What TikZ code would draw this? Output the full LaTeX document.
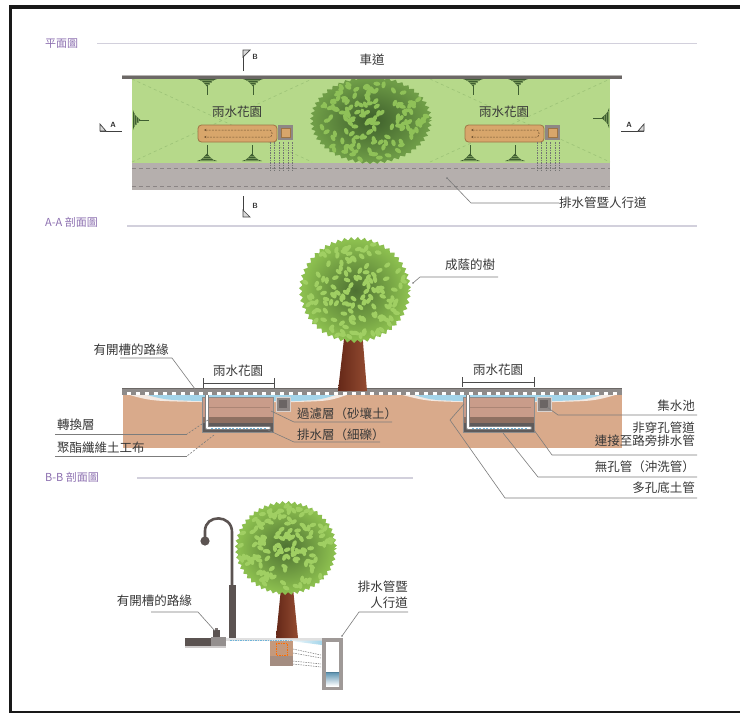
\documentclass[tikz,border=0pt]{standalone}
\usepackage{fontspec}
\newfontfamily\cjkfont{Noto Sans CJK TC}
\usetikzlibrary{calc,arrows.meta}

\definecolor{hdrpurple}{HTML}{8C6FB0}
\definecolor{hdrline}{HTML}{D2D0DC}
\definecolor{labeltext}{HTML}{383838}
\definecolor{leadergrey}{HTML}{7C7C7C}
\definecolor{lawn}{HTML}{B6D98A}
\definecolor{lawndiag}{HTML}{9CC277}
\definecolor{walk}{HTML}{B5AFAD}
\definecolor{walkdash}{HTML}{8A8484}
\definecolor{curbdark}{HTML}{6C6866}
\definecolor{curbgrey}{HTML}{8E8B8A}
\definecolor{shrubgreen}{HTML}{3E5E30}
\definecolor{trunkdark}{HTML}{652818}
\definecolor{trunklight}{HTML}{934B31}
\definecolor{soil}{HTML}{D9AA8B}
\definecolor{soilpale}{HTML}{F3E9E2}
\definecolor{water}{HTML}{A4D5EA}
\definecolor{pipeblue}{HTML}{6FB4DA}
\definecolor{filterlayer}{HTML}{C99C8A}
\definecolor{transitionlayer}{HTML}{8E7062}
\definecolor{drainlayer}{HTML}{5F5B5B}
\definecolor{gardentan}{HTML}{D8A66B}
\definecolor{gardenedge}{HTML}{9E7444}
\definecolor{basingrey}{HTML}{8E8785}
\definecolor{basinedge}{HTML}{D9D2CF}
\definecolor{lampgrey}{HTML}{5B5351}
% foliage
\definecolor{crownrim}{HTML}{8CBF4F}
\definecolor{crowncore}{HTML}{4D7032}
\definecolor{crownleaf}{HTML}{A0CF63}
\definecolor{planrim}{HTML}{6F9D47}
\definecolor{plancore}{HTML}{3D5E2B}
\definecolor{planleaf}{HTML}{8FC158}

\newcommand\lblfont{\cjkfont\fontsize{12.5}{14}\selectfont}
\newcommand\hdrfont{\cjkfont\fontsize{11}{13}\selectfont}
\newcommand\markfont{\sffamily\bfseries\fontsize{7.5}{8}\selectfont}

% leafy tree crown: centre x, centre y, x radius, y radius, seed, rim, core, leaf colours
\newcommand\leafycrown[8]{%
  \begin{scope}[shift={(#1,#2)}]
    \fill[#6] (#3,0) \foreach \ca in {0,7,...,357} {
        -- ({#3*cos(\ca)},{#4*sin(\ca)})
        -- ({0.94*#3*cos(\ca+3.5)},{0.94*#4*sin(\ca+3.5)}) } -- cycle;
    \shade[inner color=#7, outer color=#6]
      (0,0) ellipse [x radius={0.94*#3}, y radius={0.94*#4}];
    \pgfmathsetseed{#5}
    \foreach \ci in {1,...,140} {
      \pgfmathsetmacro\cang{360*rnd}
      \pgfmathsetmacro\crad{0.92*sqrt(rnd)}
      \pgfmathsetmacro\crot{360*rnd}
      \fill[#8, rotate around={\crot:({#3*\crad*cos(\cang)},{#4*\crad*sin(\cang)})}]
        ({#3*\crad*cos(\cang)},{#4*\crad*sin(\cang)}) ellipse [x radius=3.5, y radius=2.1];
    }
  \end{scope}}

\tikzset{
  lbl/.style={font=\lblfont, text=labeltext, inner sep=0pt},
  hdr/.style={font=\hdrfont, text=hdrpurple, inner sep=0pt, anchor=west},
  hdrrule/.style={draw=hdrline, line width=1.3},
  leader/.style={draw=leadergrey, line width=0.6},
  leaderdash/.style={leader, dash pattern=on 2pt off 1.5pt},
  marktext/.style={font=\markfont, text=black!80, inner sep=0pt},
  markline/.style={draw=black!75, line width=0.7},
  walkdashes/.style={draw=walkdash, line width=0.8, dash pattern=on 4pt off 3pt},
  seepage/.style={draw=black!55, line width=0.5, dash pattern=on 1.5pt off 1pt},
  spanbar/.style={draw=black!70, line width=0.9},
  gardenpipe/.style={draw=gardenedge!70!black, line width=0.5, dash pattern=on 2pt off 1.2pt,
    {Stealth[length=2.5pt,width=2.4pt]}-{Stealth[length=2.5pt,width=2.4pt]}},
  shrub/.pic={
    \fill[shrubgreen] (-10,0) .. controls (-4,-0.8) and (-2,-6) .. (0,-7.5)
                      .. controls (2,-6) and (4,-0.8) .. (10,0) -- cycle;
    \draw[lawn!45!shrubgreen, line width=0.35] (-7,-1.2) -- (7,-1.2) (-4.5,-3) -- (4.5,-3) (-2.5,-4.8) -- (2.5,-4.8);
    \draw[shrubgreen, line width=0.9] (0,-6) -- (0,-16);
  },
  plangarden/.pic={
    \fill[gardentan, draw=gardenedge, line width=0.8, rounded corners=3.5] (0,1) rectangle (79,18);
    \draw[gardenpipe] (6,6) -- (72,6) to[out=0,in=0] (72,13) -- (6,13);
    \fill[basingrey] (80,1) rectangle (95,16);
    \fill[gardentan, draw=gardenedge, line width=0.5] (83,4) rectangle (92,13);
    \foreach \sx in {72,76.5,81,85.5,90,94}
      \draw[seepage] (\sx,18) -- (\sx,46);
  },
  sectiongarden/.pic={
    \fill[filterlayer] (0,0) rectangle (71,20);
    \draw[filterlayer!85!black, line width=0.3] (3,10) -- (68,10);
    \fill[transitionlayer] (0,20) rectangle (71,26);
    \fill[drainlayer] (0,26) rectangle (71,35);
    \draw[black!45, line width=0.6] (0,0) rectangle (71,35);
    \draw[black!50, line width=4.2, line cap=round, line join=round] (5,-3) -- (5,31) -- (67,31);
    \draw[white, line width=2.8, line cap=round, line join=round] (5,-3) -- (5,31) -- (67,31);
    \draw[pipeblue, line width=0.9, dash pattern=on 2pt off 1.5pt] (9,31) -- (65,31);
    \fill[basingrey, draw=basinedge, line width=0.8] (74,0) rectangle (88,14);
    \fill[basingrey!75!black] (77,3) rectangle (85,11);
  },
}

\begin{document}
\begin{tikzpicture}[x=1pt,y=-1pt]
\useasboundingbox (0,0) rectangle (740,713);
\fill[white] (0,0) rectangle (740,713);

% ---------- frame ----------
\draw[line width=3.5, black!90] (10.5,5.5) -- (10.5,713);
\draw[line width=3.5, black!90] (9,7) -- (740,7);
\draw[line width=2.4, black!90] (9,711.8) -- (740,711.8);

% ---------- section headings ----------
\node[hdr] (hdrPlan) at (45,44) {平面圖};
\draw[hdrrule] (97,43.5) -- (697,43.5);
\node[hdr] (hdrAA) at (45,222) {A-A 剖面圖};
\draw[hdrrule] (127,226) -- (697,226);
\node[hdr] (hdrBB) at (45,477) {B-B 剖面圖};
\draw[hdrrule] (137,478) -- (413,478);

% =================== plan ===================
\fill[lawn] (132,78) rectangle (610,163);
\fill[walk] (132,163) rectangle (610,190);
\draw[walkdashes] (132,168) -- (610,168);
\draw[walkdashes] (132,186) -- (610,186);
\draw[lawndiag, line width=0.6, dash pattern=on 3pt off 3pt]
  (132,79) -- (312,162) (132,162) -- (312,79)
  (430,79) -- (610,162) (430,162) -- (610,79);

% shrubs along the edges
\pic[rotate=180] at (207,79) {shrub};
\pic[rotate=180] at (253,79) {shrub};
\pic[rotate=180] at (473,79) {shrub};
\pic[rotate=180] at (518,79) {shrub};
\pic at (207,161) {shrub};
\pic at (252,161) {shrub};
\pic at (470,161) {shrub};
\pic at (515,161) {shrub};
\pic[rotate=-90] at (133,120) {shrub};
\pic[rotate=90] at (609,118) {shrub};

% tree seen from above
\leafycrown{371}{120}{61}{44}{11}{planrim}{plancore}{planleaf}

% road edge
\fill[curbdark] (122,74.5) rectangle (622,78.5);
\draw[curbdark!50!white, line width=0.6] (122,75.6) -- (622,75.6);

% rain gardens in plan
\pic at (198,124) {plangarden};
\pic at (465,124) {plangarden};
\node[lbl] (rgPlanL) at (237,112) {雨水花園};
\node[lbl] (rgPlanR) at (504,112) {雨水花園};
\node[lbl] (road) at (372,60) {車道};

% section marks
\draw[markline] (243,71) -- (243,50);
\draw[markline, fill=black!15] (243,50) -- (250,50) -- (243,57) -- cycle;
\node[marktext] (markBtop) at (255,57) {B};
\draw[markline] (243,196) -- (243,217);
\draw[markline, fill=black!15] (243,217) -- (250,217) -- (243,210) -- cycle;
\node[marktext] (markBbot) at (255,206) {B};
\draw[markline] (100,131) -- (122,131);
\draw[markline, fill=black!15] (100,131) -- (100,124) -- (106,131) -- cycle;
\node[marktext] (markAleft) at (113,125) {A};
\draw[markline] (621,131) -- (644,131);
\draw[markline, fill=black!15] (644,131) -- (644,124) -- (638,131) -- cycle;
\node[marktext] (markAright) at (629,125) {A};

% sidewalk callout
\node[lbl, anchor=west] (lblWalkPlan) at (559,203) {排水管暨人行道};
\coordinate (walkPt) at (447,178);
\coordinate (walkBend) at (471,203);
\fill[leadergrey] (walkPt) circle (1);
\draw[leader] (walkPt) -- (walkBend) -- (lblWalkPlan.west);

% =================== section A-A ===================
\fill[soil] (123,393) rectangle (622,448);
\fill[soilpale] (123,393) .. controls (150,401) .. (200,402) -- (295,402) .. controls (330,401) .. (352,393) -- cycle;
\fill[water] (140,393) .. controls (165,400) .. (200,401) -- (295,401) .. controls (320,400) .. (342,393) -- cycle;
\fill[soilpale] (395,393) .. controls (425,401) .. (460,402) -- (555,402) .. controls (595,401) .. (622,393) -- cycle;
\fill[water] (408,393) .. controls (430,400) .. (460,401) -- (555,401) .. controls (585,400) .. (608,393) -- cycle;

\pic at (202,397) {sectiongarden};
\pic at (463,397) {sectiongarden};

% slotted kerb strip
\fill[curbgrey] (122,388) rectangle (622,394.5);
\fill[curbdark] (122,388) rectangle (622,389.3);
\foreach \kx in {127,136,...,620}
  \fill[white] (\kx,391.5) rectangle (\kx+3.5,394.5);

% shade tree
\shade[left color=trunkdark, right color=trunklight]
  (345,330) -- (362,330) -- (367,391) -- (338,391) -- cycle;
\leafycrown{355}{290}{56}{53}{7}{crownrim}{crowncore}{crownleaf}

% extent of each rain garden
\draw[spanbar] (203,378) -- (203,388) (203,383) -- (274,383) (274,378) -- (274,388);
\draw[spanbar] (462,377) -- (462,387) (462,382) -- (534,382) (534,377) -- (534,387);
\node[lbl] (rgAAL) at (238,371) {雨水花園};
\node[lbl] (rgAAR) at (498,370) {雨水花園};

% tree callout
\node[lbl] (lblTree) at (470,265) {成蔭的樹};
\coordinate (treePt) at (413,283);
\coordinate (treeBend) at (420,277);
\coordinate (treeEnd) at (498,277);
\fill[leadergrey] (treePt) circle (0.9);
\draw[leader] (treePt) -- (treeBend) -- (treeEnd);

% left-hand callouts
\node[lbl] (lblKerbAA) at (131,350) {有開槽的路緣};
\coordinate (kerbPtAA) at (195,389);
\coordinate (kerbBendAA) at (172,358);
\coordinate (kerbEndAA) at (120,358);
\draw[leader] (kerbPtAA) -- (kerbBendAA) -- (kerbEndAA);

\node[lbl, anchor=west] (lblTransition) at (57,425) {轉換層};
\coordinate (transPt) at (208,420);
\coordinate (transBend) at (187,434);
\coordinate (transEnd) at (55,434);
\draw[leaderdash] (transPt) -- (transBend);
\draw[leader] (transBend) -- (transEnd);

\node[lbl, anchor=west] (lblGeotextile) at (57,448) {聚酯纖維土工布};
\coordinate (geoPt) at (214,435);
\coordinate (geoBend) at (187,456);
\coordinate (geoEnd) at (55,456);
\draw[leaderdash] (geoPt) -- (geoBend);
\draw[leader] (geoBend) -- (geoEnd);

% middle callouts
\node[lbl, anchor=west] (lblFilter) at (297,414) {過濾層（砂壤土）};
\coordinate (filterPt) at (271,411);
\coordinate (filterBend) at (294,422);
\coordinate (filterEnd) at (392,422);
\draw[leader] (filterPt) -- (filterBend) -- (filterEnd);

\node[lbl, anchor=west] (lblDrainLayer) at (297,435) {排水層（細礫）};
\coordinate (drainPt) at (268,430);
\coordinate (drainBend) at (294,442);
\coordinate (drainEnd) at (380,442);
\draw[leader] (drainPt) -- (drainBend) -- (drainEnd);

% right-hand callouts
\node[lbl, anchor=east] (lblBasin) at (695,406) {集水池};
\coordinate (basinPt) at (547,407);
\coordinate (basinBend) at (558,415);
\coordinate (basinEnd) at (697,415);
\draw[leader] (basinPt) -- (basinBend) -- (basinEnd);

\node[lbl, anchor=east] (lblSolidA) at (695,428) {非穿孔管道};
\node[lbl, anchor=east] (lblSolidB) at (695,441) {連接至路旁排水管};
\coordinate (solidPt) at (534,430);
\coordinate (solidBend) at (552,455);
\coordinate (solidEnd) at (697,455);
\draw[leader] (solidPt) -- (solidBend) -- (solidEnd);

\node[lbl, anchor=east] (lblFlush) at (695,467) {無孔管（沖洗管）};
\coordinate (flushPt) at (503,433);
\coordinate (flushBend) at (538,477);
\coordinate (flushEnd) at (697,477);
\draw[leader] (flushPt) -- (flushBend) -- (flushEnd);

\node[lbl, anchor=east] (lblPerforated) at (695,488) {多孔底土管};
\coordinate (perfPt) at (464,404);
\coordinate (perfKink) at (450,420);
\coordinate (perfBend) at (505,498);
\coordinate (perfEnd) at (697,498);
\draw[leader] (perfPt) -- (perfKink) -- (perfBend) -- (perfEnd);

% =================== section B-B ===================
% street lamp
\fill[lampgrey] (229,585) rectangle (235.5,638);
\draw[lampgrey, line width=2.6] (232,638) -- (232,532) .. controls (232,514) and (205,514) .. (205,531) -- (205,537);
\fill[lampgrey] (205,541) circle (4.6);

% road edge and slotted kerb
\fill[lampgrey] (185,638) rectangle (211,648);
\fill[lampgrey!65!white] (211,636.5) rectangle (226,648);
\fill[lampgrey!30!white] (185,645.5) rectangle (226,648);
\fill[lampgrey] (213,630) rectangle (220,637);
\fill[lampgrey!80!white] (215,627.5) rectangle (218,630);

% ground surface with runoff
\fill[black!12] (226,637.5) rectangle (322,640.5);
\draw[pipeblue, line width=0.9, dash pattern=on 1.5pt off 1pt] (230,640) -- (292,640);
\shade[left color=white, right color=water] (287,640.5) -- (322,640.5) -- (322,645) -- cycle;

% small rain garden
\fill[soil!90!black] (270,641) rectangle (293,666);
\fill[transitionlayer!80!white] (270,656) rectangle (293,666);
\draw[orange!85!red, line width=0.7, dash pattern=on 1.5pt off 1pt] (276,643) rectangle (287,655);
\draw[seepage] (293,649) -- (321,655);
\draw[seepage] (293,653) -- (321,658);
\draw[seepage] (293,661) -- (321,664);
\draw[seepage] (293,664) -- (321,667);

% tree
\shade[left color=trunkdark, right color=trunklight]
  (281,588) -- (293,588) -- (298,638) -- (276,638) -- cycle;
\leafycrown{286}{548}{51}{47}{3}{crownrim}{crowncore}{crownleaf}

% drainage box under the sidewalk
\fill[basingrey!85!white] (322,638) rectangle (343,690);
\fill[white] (326,642) rectangle (339,686);
\shade[top color=pipeblue!80!black, bottom color=white] (326,672) rectangle (339,686);
\draw[pipeblue!70!black, line width=0.8] (326,672.5) -- (339,672.5);

% B-B callouts
\node[lbl, anchor=east] (lblKerbBB) at (192,601) {有開槽的路緣};
\coordinate (kerbPtBB) at (215,631);
\coordinate (kerbBendBB) at (198,612);
\coordinate (kerbEndBB) at (151,612);
\draw[leader] (kerbPtBB) -- (kerbBendBB) -- (kerbEndBB);

\node[lbl, anchor=east] (lblWalkA) at (408,587) {排水管暨};
\node[lbl, anchor=east] (lblWalkB) at (408,603) {人行道};
\coordinate (boxPt) at (342,636);
\coordinate (boxBend) at (359,612);
\coordinate (boxEnd) at (408,612);
\fill[leadergrey] (boxPt) circle (0.9);
\draw[leader] (boxPt) -- (boxBend) -- (boxEnd);

\end{tikzpicture}
\end{document}
